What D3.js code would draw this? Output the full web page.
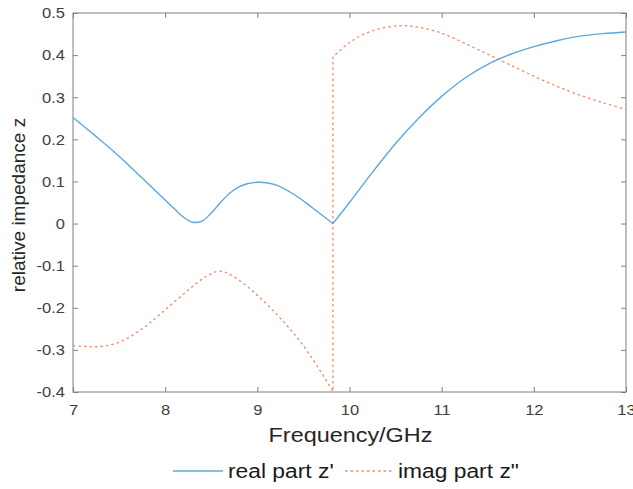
<!DOCTYPE html>
<html>
<head>
<meta charset="utf-8">
<script src="https://cdn.jsdelivr.net/npm/d3@7"></script>
<style>
  body { margin: 0; background: #fff; }
  svg { font-family: "Liberation Sans", Arial, sans-serif; }
</style>
</head>
<body>
<div id="chart"></div>
<script>
// real part, split at the sharp minimum near 9.82 GHz
var realFreqA = [7, 7.25, 7.5, 7.75, 8.0, 8.1, 8.2, 8.3, 8.4, 8.5, 8.6, 8.7, 8.8, 8.9, 9.0, 9.1, 9.2, 9.4, 9.6, 9.82];
var realValA  = [0.252, 0.207, 0.16, 0.108, 0.056, 0.035, 0.015, 0.003, 0.006, 0.025, 0.05, 0.072, 0.087, 0.095, 0.098, 0.097, 0.092, 0.069, 0.037, 0.0];
var realFreqB = [9.82, 10.0, 10.25, 10.5, 10.75, 11.0, 11.25, 11.5, 11.75, 12.0, 12.25, 12.5, 12.75, 13];
var realValB  = [0.0, 0.05, 0.122, 0.19, 0.25, 0.302, 0.345, 0.378, 0.402, 0.42, 0.434, 0.445, 0.451, 0.455];

// imaginary part, jumps at 9.82 GHz
var imagFreqA = [7, 7.15, 7.3, 7.5, 7.75, 8.0, 8.25, 8.45, 8.6, 8.75, 9.0, 9.25, 9.5, 9.82];
var imagValA  = [-0.29, -0.292, -0.292, -0.282, -0.25, -0.205, -0.158, -0.125, -0.113, -0.127, -0.17, -0.225, -0.29, -0.398];
var imagFreqB = [9.82, 10.0, 10.25, 10.55, 10.75, 11.0, 11.25, 11.5, 11.75, 12.0, 12.25, 12.5, 12.75, 13];
var imagValB  = [0.395, 0.43, 0.458, 0.47, 0.466, 0.452, 0.428, 0.402, 0.376, 0.35, 0.326, 0.305, 0.287, 0.271];

var xTicks = [7, 8, 9, 10, 11, 12, 13];
var yTicks = [-0.4, -0.3, -0.2, -0.1, 0, 0.1, 0.2, 0.3, 0.4, 0.5];
var legendLabels = ["real part z'", "imag part z\""];

var width = 633, height = 489;
var margin = {top: 13, right: 7, bottom: 97, left: 73};
var w = width - margin.left - margin.right,
    h = height - margin.top - margin.bottom;

var x = d3.scaleLinear().domain([7, 13]).range([0, w]);
var y = d3.scaleLinear().domain([-0.4, 0.5]).range([h, 0]);

var svg = d3.select("#chart").append("svg")
    .attr("width", width)
    .attr("height", height);
var g = svg.append("g")
    .attr("transform", "translate(" + margin.left + "," + margin.top + ")");

var axisColor = "#7f7f7f", textColor = "#404040";
var blue = "#5ea8dc", red = "#ef8a6a";
var dots = "2.5,3";

// the picture is a bit wider than tall, so widen horizontal texts
function stretch(sel, k) {
    sel.each(function () {
        var l = this.getComputedTextLength();
        d3.select(this).attr("textLength", l * k).attr("lengthAdjust", "spacingAndGlyphs");
    });
}

function styleAxis(sel, hideText) {
    sel.select(".domain").remove();
    sel.selectAll("line").attr("stroke", axisColor);
    sel.selectAll("text").attr("fill", textColor).style("font-size", "15px");
    if (hideText) sel.selectAll("text").remove();
    else stretch(sel.selectAll("text"), 1.1);
}

var fmt = function (d) { return String(Math.round(d * 10) / 10); };

g.append("g").attr("transform", "translate(0," + h + ")")
    .call(d3.axisBottom(x).tickValues(xTicks).tickFormat(fmt).tickSizeInner(-5).tickSizeOuter(0).tickPadding(12))
    .call(styleAxis);
g.append("g")
    .call(d3.axisTop(x).tickValues(xTicks).tickSizeInner(-5).tickSizeOuter(0))
    .call(function (s) { styleAxis(s, true); });
g.append("g")
    .call(d3.axisLeft(y).tickValues(yTicks).tickFormat(fmt).tickSizeInner(-5).tickSizeOuter(0).tickPadding(8))
    .call(styleAxis);
g.append("g").attr("transform", "translate(" + w + ",0)")
    .call(d3.axisRight(y).tickValues(yTicks).tickSizeInner(-5).tickSizeOuter(0))
    .call(function (s) { styleAxis(s, true); });

g.append("rect")
    .attr("width", w).attr("height", h)
    .attr("fill", "none").attr("stroke", axisColor).attr("stroke-width", 1);

var line = d3.line()
    .x(function (d) { return x(d[0]); })
    .y(function (d) { return y(d[1]); })
    .curve(d3.curveCatmullRom.alpha(0.5));

function joined(fa, va, fb, vb) {
    var a = line(d3.zip(fa, va));
    var b = line(d3.zip(fb, vb));
    return a + "L" + b.slice(1);
}

g.append("path")
    .attr("d", joined(imagFreqA, imagValA, imagFreqB, imagValB))
    .attr("fill", "none")
    .attr("stroke", red)
    .attr("stroke-width", 1.3)
    .attr("stroke-dasharray", dots);

g.append("path")
    .attr("d", joined(realFreqA, realValA, realFreqB, realValB))
    .attr("fill", "none")
    .attr("stroke", blue)
    .attr("stroke-width", 1.4);

// axis titles
svg.append("text")
    .attr("x", margin.left + w / 2 + 1).attr("y", 442)
    .attr("text-anchor", "middle")
    .attr("fill", "#262626")
    .style("font-size", "20px")
    .text("Frequency/GHz")
    .call(stretch, 1.17);

svg.append("text")
    .attr("transform", "translate(25,205) rotate(-90)")
    .attr("text-anchor", "middle")
    .attr("fill", "#262626")
    .style("font-size", "19px")
    .text("relative impedance z");

// legend
var legend = svg.append("g").attr("transform", "translate(173,471)");
legend.append("line").attr("x1", 0).attr("x2", 50).attr("y1", 0).attr("y2", 0)
    .attr("stroke", blue).attr("stroke-width", 1.4);
legend.append("text").attr("x", 55).attr("y", 7)
    .attr("fill", "#1a1a1a").style("font-size", "20px").text(legendLabels[0])
    .call(stretch, 1.14);
legend.append("line").attr("x1", 172).attr("x2", 220).attr("y1", 0).attr("y2", 0)
    .attr("stroke", red).attr("stroke-width", 1.3).attr("stroke-dasharray", dots);
legend.append("text").attr("x", 225).attr("y", 7)
    .attr("fill", "#1a1a1a").style("font-size", "20px").text(legendLabels[1])
    .call(stretch, 1.14);
</script>
</body>
</html>
